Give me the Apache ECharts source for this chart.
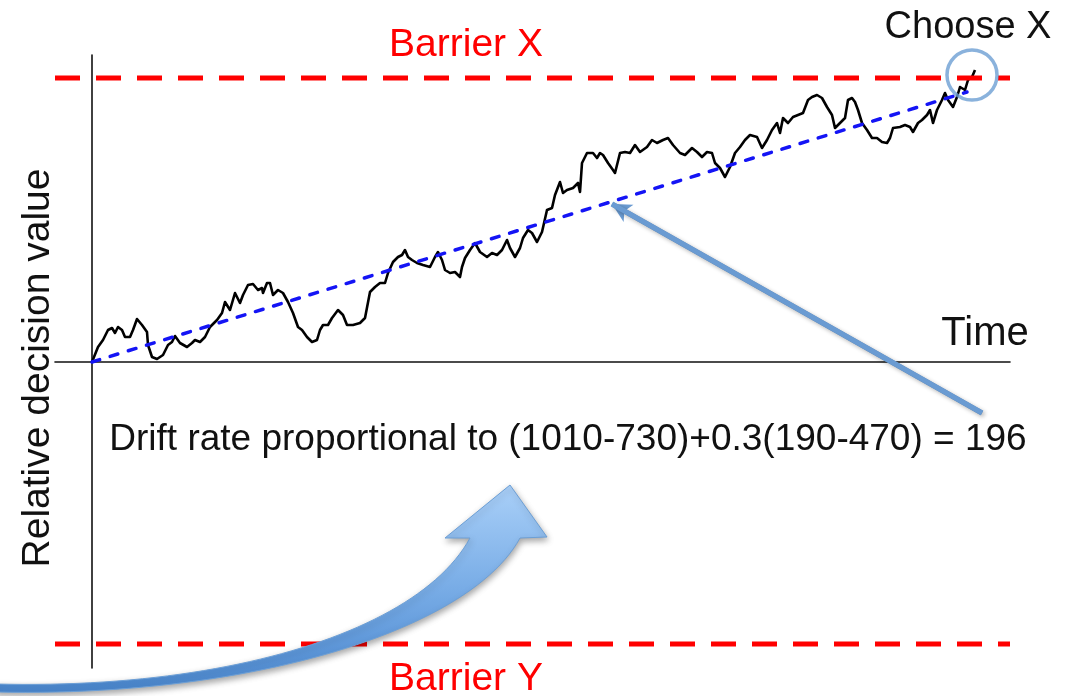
<!DOCTYPE html>
<html><head><meta charset="utf-8">
<script src="https://cdn.jsdelivr.net/npm/echarts@6/dist/echarts.min.js"></script>
<style>html,body{margin:0;padding:0;background:#fff}#c{width:1070px;height:696px}</style>
</head><body><div id="c"></div>
<script>
// ---- data (time, relative decision value) ----
const walkSamples = [
[0,0],[0.6,1.5],[1.1,2.2],[1.6,3.2],[2.0,3.4],[2.3,2.9],[2.6,3.5],[3.0,3.2],[3.3,2.5],[3.8,2.5],
[4.1,3.2],[4.5,4.3],[5.0,3.7],[5.5,3.0],[5.6,1.7],[6.0,0.5],[6.5,0.3],[7.1,0.7],[7.6,1.7],[8.0,2.0],
[8.3,2.6],[8.8,1.9],[9.5,1.5],[10.0,1.9],[10.3,2.2],[10.8,2.0],[11.3,2.5],[11.8,3.5],[12.5,4.2],[13.0,4.9],
[13.3,6.0],[13.8,5.2],[14.3,6.9],[14.8,5.9],[15.1,6.7],[15.6,7.7],[16.1,7.8],[16.6,7.2],[17.0,7.4],[17.1,6.9],
[17.5,7.9],[17.8,7.9],[18.1,6.7],[18.6,7.2],[19.1,6.9],[19.6,6.0],[20.1,4.9],[20.6,3.5],[21.0,3.2],[21.5,2.5],
[22.0,2.0],[22.5,2.2],[22.8,3.2],[23.1,3.7],[23.6,3.7],[24.0,4.4],[24.6,5.2],[25.1,4.7],[25.5,3.7],[26.1,3.7],
[26.8,3.9],[27.3,4.4],[27.8,7.0],[28.3,7.5],[28.8,7.9],[29.3,7.9],[29.6,8.9],[30.1,10.0],[30.6,10.5],[31.0,10.7],
[31.3,11.2],[31.6,10.5],[32.0,10.2],[32.5,9.9],[33.1,9.7],[33.8,9.5],[34.3,10.5],[34.6,11.0],[35.0,10.2],[35.3,9.2],
[35.8,8.9],[36.3,9.0],[36.8,8.5],[37.0,9.5],[37.3,10.4],[37.8,11.2],[38.3,11.9],[38.8,11.0],[39.5,10.5],[40.0,10.9],
[40.5,10.7],[41.0,11.2],[41.5,12.2],[41.8,11.4],[42.3,10.5],[42.8,11.4],[43.1,12.4],[43.6,13.2],[44.0,12.9],[44.5,12.0],
[45.0,13.0],[45.5,15.2],[46.0,15.4],[46.3,16.7],[46.8,18.0],[47.1,16.9],[47.5,17.2],[48.1,17.4],[48.6,17.9],[48.8,17.0],
[49.0,19.9],[49.5,20.9],[50.1,20.9],[50.5,20.4],[50.8,20.9],[51.1,20.7],[51.6,19.9],[52.1,19.2],[52.3,18.9],[52.8,20.9],
[53.3,21.0],[53.8,20.9],[54.3,21.7],[54.8,21.0],[55.5,21.5],[56.0,22.2],[56.5,21.9],[57.1,22.2],[57.6,22.4],[58.1,21.7],
[58.8,20.9],[59.3,20.7],[60.0,21.4],[60.5,21.0],[61.0,20.5],[61.5,21.0],[62.0,20.9],[62.3,19.9],[62.8,19.4],[63.3,18.5],
[63.8,19.5],[64.3,20.9],[64.8,21.5],[65.3,22.2],[65.8,22.7],[66.5,22.5],[67.0,21.4],[67.5,22.2],[68.0,23.2],[68.5,23.9],
[68.8,22.9],[69.1,24.4],[69.6,23.9],[70.1,24.5],[70.6,24.7],[71.1,24.9],[71.6,26.2],[72.0,26.5],[72.5,26.7],[73.0,26.4],
[73.5,25.5],[74.0,24.7],[74.3,23.4],[74.8,23.9],[75.3,24.4],[75.6,26.2],[76.0,26.4],[76.3,26.0],[76.6,25.2],[77.0,23.9],
[77.5,23.2],[78.0,22.4],[78.5,22.4],[79.0,22.0],[79.5,21.9],[79.8,22.4],[80.1,23.4],[80.8,23.5],[81.3,23.7],[81.8,23.5],
[82.1,23.0],[82.6,23.9],[83.0,24.2],[83.5,24.7],[83.8,25.2],[84.1,23.9],[84.5,25.2],[85.0,26.2],[85.3,26.9],[85.6,26.2],
[86.1,25.5],[86.5,26.5],[86.8,27.5],[87.3,27.2],[87.6,28.2],[88.0,28.5],[88.3,29.2]
];
const barrierX = 28.4;
const barrierY = -28.2;
const timeRange = [-3.7, 91.8];
const valueRange = [-30.6, 30.7];
const driftStart = [0, 0];
const driftEnd = [87.5, 27.0];
const choicePoint = [88.0, 28.7];
const pointerFrom = [89.0, -5.1];
const pointerTo = [52.0, 15.8];
const labelBarrierX = 'Barrier X';
const labelBarrierY = 'Barrier Y';
const labelChoose = 'Choose X';
const labelTime = 'Time';
const labelValue = 'Relative decision value';
const labelDrift = 'Drift rate proportional to (1010-730)+0.3(190-470) = 196';

const FONT = '"Liberation Sans", Arial, sans-serif';
const chart = echarts.init(document.getElementById('c'), null, {renderer: 'canvas'});

function txt(text, x, y, size, color, extra) {
  return Object.assign({
    type: 'text', x: x, y: y, z: 50,
    style: {text: text, fill: color, fontSize: size, fontFamily: FONT,
      align: 'center', verticalAlign: 'middle', textAlign: 'center', textVerticalAlign: 'middle'}
  }, extra || {});
}

// decorative curved arrow outline (cubic segments) flattened to a polygon
function bez(p0, p1, p2, p3, n) {
  const out = [];
  for (let i = 1; i <= n; i++) {
    const t = i / n, u = 1 - t;
    out.push([u*u*u*p0[0] + 3*u*u*t*p1[0] + 3*u*t*t*p2[0] + t*t*t*p3[0],
              u*u*u*p0[1] + 3*u*u*t*p1[1] + 3*u*t*t*p2[1] + t*t*t*p3[1]]);
  }
  return out;
}
const arrowPts = [[-5, 684]]
  .concat(bez([-5,684],[230,690],[420,630],[470,538], 50))
  .concat([[445,538],[510,485],[547,537],[520,538]])
  .concat(bez([520,538],[470,630],[250,698],[-5,692], 50));

const option = {
  animation: false,
  backgroundColor: '#ffffff',
  grid: {left: 55, right: 60, top: 55, bottom: 28},
  xAxis: {
    type: 'value', min: timeRange[0], max: timeRange[1],
    axisLine: {show: true, onZero: true, lineStyle: {color: '#111', width: 1.6}},
    axisTick: {show: false}, axisLabel: {show: false}, splitLine: {show: false}
  },
  yAxis: {
    type: 'value', min: valueRange[0], max: valueRange[1],
    axisLine: {show: true, onZero: true, lineStyle: {color: '#111', width: 1.6}},
    axisTick: {show: false}, axisLabel: {show: false}, splitLine: {show: false}
  },
  series: [
    {
      name: 'drift', type: 'line', z: 4, symbol: 'none', silent: true,
      data: [driftStart, driftEnd],
      lineStyle: {color: '#1414f5', width: 3.5, type: [8, 11], cap: 'round'}
    },
    {
      name: 'walk', type: 'line', z: 3, symbol: 'none', silent: true,
      data: walkSamples,
      lineStyle: {color: '#000', width: 2.6, join: 'round'}
    },
    {
      name: 'barrierX', type: 'line', z: 5, symbol: 'none', silent: true,
      data: [[timeRange[0], barrierX], [timeRange[1], barrierX]],
      lineStyle: {color: '#ff0000', width: 5, type: [25, 16]}
    },
    {
      name: 'barrierY', type: 'line', z: 5, symbol: 'none', silent: true,
      data: [[timeRange[0], barrierY], [timeRange[1], barrierY]],
      lineStyle: {color: '#ff0000', width: 5, type: [25, 16]}
    },
    {
      name: 'choice', type: 'scatter', z: 6, silent: true,
      data: [choicePoint], symbol: 'circle', symbolSize: 50,
      itemStyle: {color: 'rgba(0,0,0,0)', borderColor: '#6d9fd3', borderWidth: 3.5}
    },
    {
      name: 'pointer', type: 'line', z: 7, silent: true,
      data: [pointerFrom, pointerTo], symbol: 'none',
      lineStyle: {color: '#6a9bd2', width: 5,
        shadowBlur: 4, shadowColor: 'rgba(0,0,0,0.3)', shadowOffsetX: 2, shadowOffsetY: 2},
      markLine: {
        silent: true, symbol: ['none', 'arrow'], symbolSize: [15, 19],
        label: {show: false},
        lineStyle: {color: '#6a9bd2', width: 5, type: 'solid'},
        data: [[{coord: pointerFrom}, {coord: pointerTo}]]
      }
    }
  ],
  graphic: [
    {
      type: 'polygon', z: 40,
      shape: {points: arrowPts},
      style: {
        fill: {type: 'linear', x: 0, y: 0, x2: 0, y2: 1, colorStops: [
          {offset: 0, color: '#aad0f8'}, {offset: 0.5, color: '#78ace6'}, {offset: 1, color: '#4a87cf'}]},
        stroke: '#6c9fd6', lineWidth: 1,
        shadowBlur: 6, shadowColor: 'rgba(0,0,0,0.35)', shadowOffsetX: 1, shadowOffsetY: 3
      }
    },
    txt(labelBarrierX, 466, 45, 39, '#ff0000'),
    txt(labelBarrierY, 466, 679, 39, '#ff0000'),
    txt(labelChoose, 968, 28, 38, '#111'),
    txt(labelTime, 985, 334, 40, '#111'),
    txt(labelValue, 38, 368, 39, '#111', {rotation: Math.PI / 2}),
    txt(labelDrift, 568, 440, 37, '#111')
  ]
};
chart.setOption(option);
</script>
</body></html>
